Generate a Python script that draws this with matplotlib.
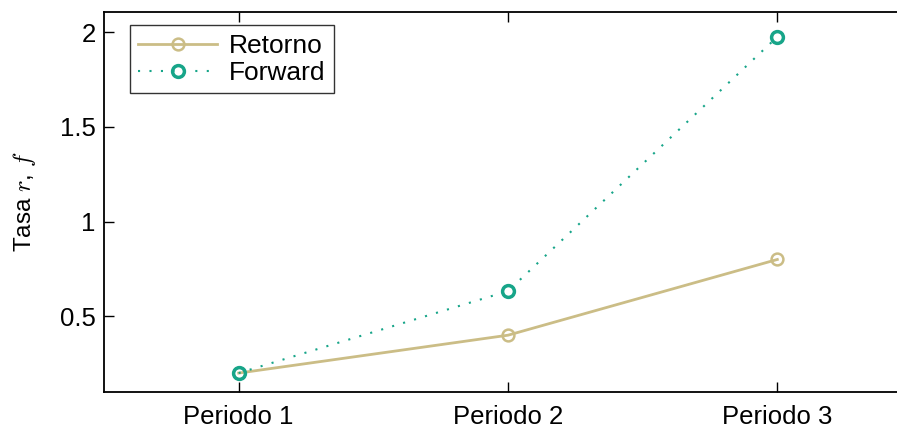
import matplotlib
matplotlib.use("Agg")
import matplotlib.pyplot as plt

# Datos
periodos = ["Periodo 1", "Periodo 2", "Periodo 3"]
retorno = [0.2, 0.4, 0.8]
forward = [0.2, 0.633, 1.976]
y_ticks = [0.5, 1, 1.5, 2]
y_labels = ["0.5", "1", "1.5", "2"]

plt.rcParams["font.family"] = ["Liberation Sans", "DejaVu Sans"]
plt.rcParams["mathtext.fontset"] = "cm"

fig = plt.figure(figsize=(8.97, 4.28), dpi=100, facecolor="white")
# el eje se extiende más allá del borde derecho, como en la figura original
ax = fig.add_axes([104 / 897, 1 - 392 / 428, 808 / 897, 380 / 428])

x = [1, 2, 3]
ax.plot(x, retorno, "-o", color="#cbbd86", linewidth=2, markersize=8.5,
        markerfacecolor="none", markeredgewidth=1.8, label="Retorno")
ax.plot(x, forward, linestyle=(0, (1, 4.5)), marker="o", color="#17a589",
        linewidth=1.5, markersize=8.5, markerfacecolor="none",
        markeredgewidth=2.5, label="Forward")

ax.set_xlim(0.5, 3.5)
ax.set_ylim(0.1, 2.107)
ax.set_xticks(x)
ax.set_xticklabels(periodos)
ax.set_yticks(y_ticks)
ax.set_yticklabels(y_labels)

ax.tick_params(direction="in", top=True, right=False, length=7, width=1,
               labelsize=18.5)
ax.tick_params(axis="x", pad=9)
ax.tick_params(axis="y", pad=6)
ax.spines["right"].set_visible(False)
for s in ax.spines.values():
    s.set_linewidth(1.3)

ax.set_ylabel("Tasa $r$, $f$", fontsize=17.5, labelpad=16)

leg = ax.legend(loc="upper left", bbox_to_anchor=(0.032, 0.965), fontsize=19,
                frameon=True, fancybox=False, edgecolor="black",
                handlelength=3.0, borderpad=0.32, labelspacing=0.12,
                handletextpad=0.45, borderaxespad=0)
leg.get_frame().set_linewidth(1)

fig.savefig("out.png", dpi=100, facecolor="white")
